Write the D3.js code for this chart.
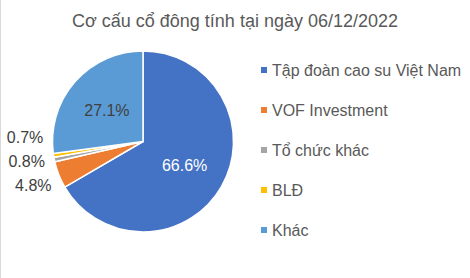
<!DOCTYPE html>
<html>
<head>
  <meta charset="utf-8">
  <script src="https://d3js.org/d3.v7.min.js"></script>
  <style>
    body { margin: 0; background: #fff; }
    svg { font-family: "Liberation Sans", Arial, sans-serif; display: block; }
  </style>
</head>
<body>
<div id="chart"></div>
<script>
const labels = ["Tập đoàn cao su Việt Nam", "VOF Investment", "Tổ chức khác", "BLĐ", "Khác"];
const values = [66.6, 4.8, 0.8, 0.7, 27.1];
const colors = ["#4472C4", "#ED7D31", "#A5A5A5", "#FFC000", "#5B9BD5"];
const title = "Cơ cấu cổ đông tính tại ngày 06/12/2022";

const width = 470, height = 278;
const cx = 143, cy = 141.5, r = 90.5;

const svg = d3.select("#chart")
  .append("svg")
    .attr("width", width)
    .attr("height", height);

svg.append("rect")
  .attr("width", width).attr("height", height)
  .attr("fill", "#fff");

// faint chart border on the left
svg.append("line")
  .attr("x1", 0.5).attr("x2", 0.5)
  .attr("y1", 0).attr("y2", height)
  .attr("stroke", "#d9d9d9");

svg.append("text")
  .attr("x", 235)
  .attr("y", 27)
  .attr("text-anchor", "middle")
  .attr("font-size", 18)
  .attr("fill", "#595959")
  .text(title);

const data = labels.map((l, i) => ({label: l, value: values[i], color: colors[i]}));

const pie = d3.pie().value(d => d.value).sort(null);
const arcs = pie(data);

const arc = d3.arc().innerRadius(0).outerRadius(r);
const inner = d3.arc().innerRadius(r * 0.53).outerRadius(r * 0.53);

const g = svg.append("g").attr("transform", `translate(${cx},${cy})`);

g.selectAll("path")
  .data(arcs)
  .join("path")
    .attr("d", arc)
    .attr("fill", d => d.data.color)
    .attr("stroke", "#fff")
    .attr("stroke-width", 1.5);

// labels: big slices inside, small ones outside (stacked upward if they collide)
const fmt = v => v.toFixed(1) + "%";
const big = arcs.filter(d => d.data.value > 10);
const small = arcs.filter(d => d.data.value <= 10);

g.selectAll("text.in")
  .data(big)
  .join("text")
    .attr("class", "in")
    .attr("transform", d => `translate(${inner.centroid(d)})`)
    .attr("text-anchor", "middle")
    .attr("dy", "0.35em")
    .attr("font-size", 16)
    .attr("fill", d => d.data.value > 50 ? "#fff" : "#404040")
    .text(d => fmt(d.data.value));

const lr = 118;
const pos = small.map(d => {
  const a = (d.startAngle + d.endAngle) / 2;
  return {d: d, y: -Math.cos(a) * lr};
});
for (let i = 1; i < pos.length; i++) {
  if (pos[i - 1].y - pos[i].y < 24) pos[i].y = pos[i - 1].y - 24;
}
pos.forEach(p => { p.x = -Math.sqrt(Math.max(0, lr * lr - p.y * p.y)); });

g.selectAll("text.out")
  .data(pos)
  .join("text")
    .attr("class", "out")
    .attr("x", p => p.x)
    .attr("y", p => p.y)
    .attr("text-anchor", "middle")
    .attr("dy", "0.35em")
    .attr("font-size", 16)
    .attr("fill", "#404040")
    .text(p => fmt(p.d.data.value));

// legend
const ly = d3.scalePoint().domain(labels).range([70, 230]);
const legend = svg.append("g");
legend.selectAll("rect")
  .data(data)
  .join("rect")
    .attr("x", 261)
    .attr("y", d => ly(d.label) - 3)
    .attr("width", 6).attr("height", 6)
    .attr("fill", d => d.color);
legend.selectAll("text")
  .data(data)
  .join("text")
    .attr("x", 272)
    .attr("y", d => ly(d.label))
    .attr("dy", "0.35em")
    .attr("font-size", 16)
    .attr("fill", "#595959")
    .text(d => d.label);
</script>
</body>
</html>
